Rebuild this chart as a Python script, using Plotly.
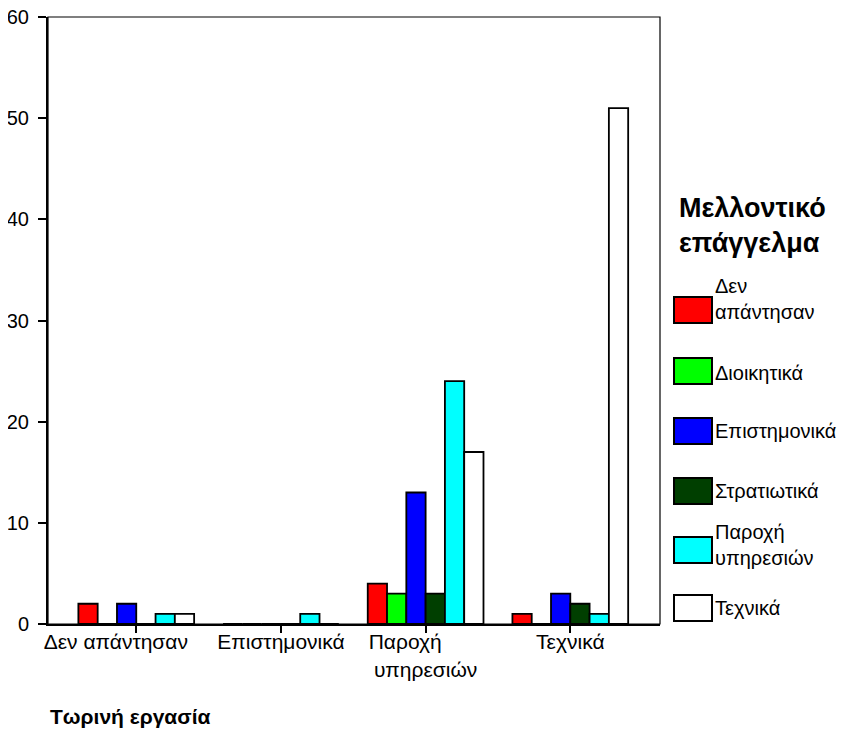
import plotly.graph_objects as go

NB = "\u00a0"
categories = ["Δεν απάντησαν", "Επιστημονικά", "Παροχή υπηρεσιών", "Τεχνικά"]
category_labels = ["Δεν απάντησαν" + NB * 7, "Επιστημονικά", "Παροχή" + NB * 7 + "<br>υπηρεσιών", "Τεχνικά"]

series_names = ["Δεν<br>απάντησαν", "Διοικητικά", "Επιστημονικά", "Στρατιωτικά", "Παροχή<br>υπηρεσιών", "Τεχνικά"]
series_colors = ["#FF0000", "#00FF00", "#0000FF", "#003F00", "#00FFFF", "#FFFFFF"]

den_apantisan = [2, 0, 4, 1]
dioikitika = [0, 0, 3, 0]
epistimonika = [2, 0, 13, 3]
stratiotika = [0, 0, 3, 2]
paroxi_ypiresion = [1, 1, 24, 1]
texnika = [1, 0, 17, 51]

series_values = [den_apantisan, dioikitika, epistimonika, stratiotika, paroxi_ypiresion, texnika]

y_tick_vals = [0, 10, 20, 30, 40, 50, 60]
legend_title = "Μελλοντικό<br>επάγγελμα"
x_title = "Τωρινή εργασία"

FONT = "Liberation Sans, Arial, sans-serif"

# plot-area geometry in page pixels (figure is drawn at an 8px page offset)
PL, PR, PT, PB = 48, 660, 17, 624


def px(xp):
    return (xp - PL) / (PR - PL)


def py(yp):
    return (PB - yp) / (PB - PT)


fig = go.Figure()
x_idx = list(range(len(categories)))
for i, (name, color, vals) in enumerate(zip(series_names, series_colors, series_values)):
    fig.add_trace(go.Bar(
        x=x_idx, y=vals, name=name.replace("<br>", " "),
        marker=dict(color=color, line=dict(color="black", width=1.8)),
        showlegend=False,
    ))

shapes = [dict(type="rect", xref="paper", yref="paper", x0=0, x1=1, y0=0, y1=1,
               line=dict(color="black", width=1.2), fillcolor="rgba(0,0,0,0)", layer="above")]
annotations = [
    dict(text=f"<b>{x_title}</b>", xref="paper", yref="paper",
         x=0, y=-0.1516, xanchor="left", yanchor="middle", showarrow=False,
         font=dict(size=21, family=FONT)),
    dict(text=f"<b>{legend_title}</b>", xref="paper", yref="paper",
         x=px(677), y=py(191), xanchor="left", yanchor="top", showarrow=False,
         align="left", font=dict(size=27, family=FONT)),
]

# custom legend entries (swatch centres / text centres in page pixels)
swatch_centres = [310, 371, 431, 491, 550, 608]
text_centres = [299, 373, 431, 491, 545, 608]
for name, color, sc, tc in zip(series_names, series_colors, swatch_centres, text_centres):
    shapes.append(dict(type="rect", xref="paper", yref="paper",
                       x0=px(674), x1=px(712), y0=py(sc + 13), y1=py(sc - 13),
                       line=dict(color="black", width=2), fillcolor=color, layer="above"))
    annotations.append(dict(text=name, xref="paper", yref="paper",
                            x=px(714), y=py(tc), xanchor="left", yanchor="middle",
                            showarrow=False, align="left", borderpad=0,
                            font=dict(size=20, family=FONT)))

fig.update_layout(
    width=840, height=721,
    margin=dict(l=40, r=188, t=9, b=105),
    plot_bgcolor="white", paper_bgcolor="white",
    barmode="group", bargap=0.2, bargroupgap=0,
    font=dict(family=FONT, size=21, color="black"),
    showlegend=False,
    xaxis=dict(
        automargin=False,
        range=[-0.61, 3.62], tickmode="array", tickvals=x_idx, ticktext=category_labels,
        tickangle=0,
        showgrid=False, zeroline=False, showline=True, linecolor="black", linewidth=2,
        ticks="outside", ticklen=7, tickwidth=2, tickcolor="black",
        ticklabelstandoff=-9, ticklabeloverflow="allow",
    ),
    yaxis=dict(
        automargin=False,
        range=[0, 60], tickmode="array", tickvals=y_tick_vals,
        showgrid=False, zeroline=False, showline=True, linecolor="black", linewidth=2,
        ticks="outside", ticklen=8, tickwidth=1.5, tickcolor="black",
        ticklabelstandoff=5, tickfont=dict(size=20), ticklabeloverflow="allow",
    ),
    shapes=shapes,
    annotations=annotations,
)

fig.write_html("out.html")
